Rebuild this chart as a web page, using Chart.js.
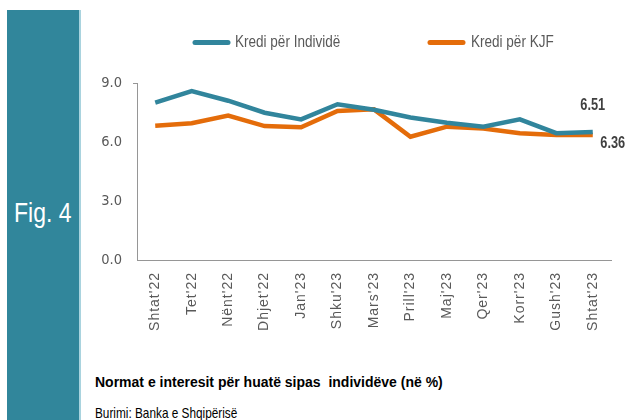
<!DOCTYPE html>
<html>
<head>
<meta charset="utf-8">
<script src="https://cdn.jsdelivr.net/npm/chart.js@4"></script>
<style>
  html, body { margin: 0; padding: 0; background: #fff; }
  body { width: 635px; height: 420px; position: relative; overflow: hidden; }
  #panel {
    position: absolute; left: 7px; top: 10px; width: 72px; height: 410px;
    background: #31869b; border-right: 2px solid #a9d3de;
  }
  #fig {
    position: absolute; left: 14px; top: 199px; color: #fff; white-space: pre;
    font: 28px/27px 'Liberation Sans', Arial, sans-serif;
    transform: scaleX(0.82); transform-origin: left top;
  }
  #chart-wrap { position: absolute; left: 80px; top: 0; }
  #title {
    position: absolute; left: 95px; top: 375px; color: #000; white-space: pre;
    font: bold 14px/14px 'Liberation Sans', Arial, sans-serif;
  }
  #source {
    position: absolute; left: 95px; top: 406px; color: #000; white-space: pre;
    font: 14.4px/14px 'Liberation Sans', Arial, sans-serif;
    transform: scaleX(0.82); transform-origin: left top;
  }
</style>
</head>
<body>
<div id="panel"></div>
<div id="fig">Fig. 4</div>
<div id="chart-wrap"><canvas id="rates-chart" width="555" height="350"></canvas></div>
<div id="title">Normat e interesit për huatë sipas  individëve (në %)</div>
<div id="source">Burimi: Banka e Shqipërisë</div>

<script>
// Data
const months = ["Shtat'22", "Tet'22", "Nënt'22", "Dhjet'22", "Jan'23", "Shku'23", "Mars'23",
                "Prill'23", "Maj'23", "Qer'23", "Korr'23", "Gush'23", "Shtat'23"];
const individuals = [8.00, 8.59, 8.10, 7.49, 7.15, 7.92, 7.64, 7.25, 6.98, 6.78, 7.15, 6.45, 6.51];
const kjf = [6.83, 6.95, 7.34, 6.81, 6.75, 7.58, 7.66, 6.27, 6.78, 6.69, 6.44, 6.36, 6.36];
const yTicks = [0, 3, 6, 9];

const BLUE = '#31859c';
const ORANGE = '#e46c0a';
const SANS = "'Liberation Sans', Arial, sans-serif";
const NARROW = "'DejaVu Sans Condensed', 'Liberation Sans', sans-serif";

// draw text squeezed horizontally (the original uses a narrow face)
function narrowText(ctx, text, x, y, squeeze) {
    ctx.save();
    ctx.translate(x, y);
    ctx.scale(squeeze, 1);
    ctx.fillText(text, 0, 0);
    ctx.restore();
}

// Legend drawn in one row with wide gap, like the original
const legendPlugin = {
    id: 'rowLegend',
    afterDraw(chart) {
        const ctx = chart.ctx;
        const spots = [{ x: 115, tx: 155 }, { x: 350, tx: 391 }];
        ctx.save();
        ctx.font = '16.5px ' + SANS;
        ctx.fillStyle = '#595959';
        ctx.textBaseline = 'alphabetic';
        chart.data.datasets.forEach((ds, i) => {
            const s = spots[i];
            ctx.strokeStyle = ds.borderColor;
            ctx.lineWidth = 5;
            ctx.lineCap = 'round';
            ctx.beginPath();
            ctx.moveTo(s.x, 42.5);
            ctx.lineTo(s.x + 33, 42.5);
            ctx.stroke();
            narrowText(ctx, ds.label, s.tx, 47, 0.82);
        });
        ctx.restore();
    }
};

// Values at the last month
const lastLabelPlugin = {
    id: 'lastLabels',
    afterDatasetsDraw(chart) {
        const ctx = chart.ctx;
        const offsets = [{ dx: 0, dy: -27 }, { dx: 20, dy: 8 }];
        ctx.save();
        ctx.font = 'bold 17px ' + SANS;
        ctx.fillStyle = '#404040';
        ctx.textAlign = 'center';
        ctx.textBaseline = 'middle';
        chart.data.datasets.forEach((ds, i) => {
            const meta = chart.getDatasetMeta(i);
            const pt = meta.data[meta.data.length - 1];
            const v = ds.data[ds.data.length - 1];
            narrowText(ctx, v.toFixed(2), pt.x + offsets[i].dx, pt.y + offsets[i].dy, 0.75);
        });
        ctx.restore();
    }
};

// x labels in the original are slightly letter-spaced
const spacedTicksPlugin = {
    id: 'spacedTicks',
    beforeDraw(chart) {
        const sc = chart.scales.x;
        if (sc._spaced) return;
        const orig = sc.drawLabels;
        sc.drawLabels = function (area) {
            this.ctx.save();
            this.ctx.letterSpacing = '1px';
            orig.call(this, area);
            this.ctx.restore();
        };
        sc._spaced = true;
    }
};

const ctx = document.getElementById('rates-chart').getContext('2d');
const myChart = new Chart(ctx, {
    type: 'line',
    data: {
        labels: months,
        datasets: [
            {
                label: 'Kredi për Individë',
                data: individuals,
                borderColor: BLUE,
                backgroundColor: BLUE,
                borderWidth: 4.5,
                pointRadius: 0,
                tension: 0
            },
            {
                label: 'Kredi për KJF',
                data: kjf,
                borderColor: ORANGE,
                backgroundColor: ORANGE,
                borderWidth: 4.5,
                pointRadius: 0,
                tension: 0
            }
        ]
    },
    options: {
        responsive: false,
        animation: false,
        devicePixelRatio: 1,
        layout: { padding: { top: 83, right: 24, left: 0, bottom: 0 } },
        plugins: {
            legend: { display: false },
            title: { display: false },
            tooltip: { enabled: false }
        },
        scales: {
            x: {
                offset: true,
                afterFit(scale) { scale.height = 90; },
                grid: { display: false },
                border: { display: true, color: '#969696', width: 1 },
                ticks: {
                    autoSkip: false,
                    minRotation: 90,
                    maxRotation: 90,
                    padding: 4,
                    color: '#595959',
                    font: { family: SANS, size: 14 }
                }
            },
            y: {
                min: 0,
                max: 9,
                afterFit(scale) { scale.width = 57; },
                afterBuildTicks(scale) { scale.ticks = yTicks.map(v => ({ value: v })); },
                grid: {
                    drawOnChartArea: false,
                    tickLength: 4,
                    color: c => (c.tick && c.tick.value === 9 ? '#969696' : 'rgba(0,0,0,0)')
                },
                border: { display: true, color: '#969696', width: 1 },
                ticks: {
                    padding: 11,
                    color: '#595959',
                    font: { family: NARROW, size: 14.5 },
                    callback: v => Number(v).toFixed(1)
                }
            }
        }
    },
    plugins: [legendPlugin, lastLabelPlugin, spacedTicksPlugin]
});
</script>
</body>
</html>
